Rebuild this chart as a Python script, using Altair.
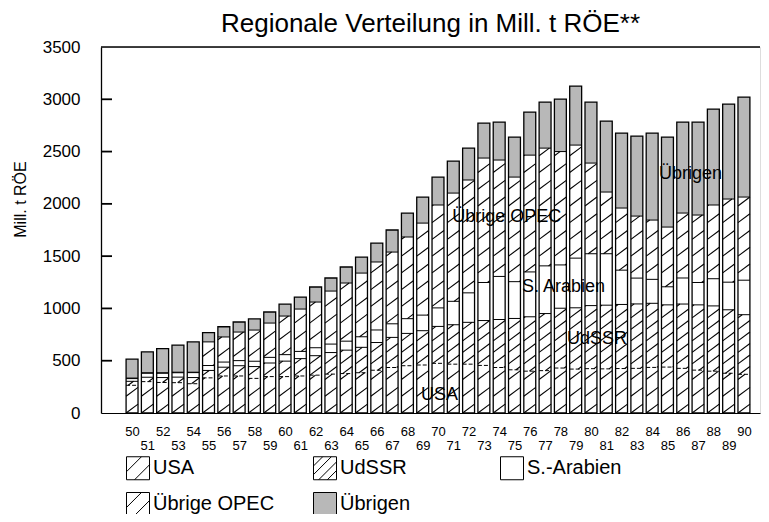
import altair as alt
import pandas as pd

# ---- data (Mill. t RÖE) ----
years = list(range(50, 91))
usa = [265, 300, 292, 290, 280, 336, 354, 354, 331, 348, 348, 354, 362, 372, 377, 385, 409, 435, 452, 459,
       475, 467, 467, 455, 435, 413, 400, 405, 430, 420, 424, 422, 425, 427, 436, 439, 427, 410, 400, 380, 370]
udssr = [38, 42, 47, 53, 59, 71, 84, 98, 113, 130, 148, 166, 186, 206, 224, 243, 265, 288, 309, 328,
         353, 377, 400, 429, 459, 491, 520, 546, 572, 586, 603, 609, 613, 616, 613, 595, 615, 624, 624, 607, 570]
sarabien = [26, 38, 41, 42, 47, 47, 49, 49, 51, 54, 62, 69, 76, 81, 86, 101, 120, 130, 141, 149,
            177, 224, 282, 364, 412, 352, 429, 456, 414, 475, 496, 492, 328, 247, 229, 173, 249, 214, 260, 264, 330]
opec = [5, 5, 5, 5, 4, 226, 240, 273, 298, 328, 369, 405, 437, 507, 556, 609, 650, 686, 781, 880,
        984, 1035, 1079, 1190, 1113, 1000, 1117, 1126, 1084, 1081, 867, 590, 594, 593, 567, 571, 621, 645, 705, 795, 795]
uebrigen = [181, 200, 230, 260, 290, 88, 98, 96, 107, 106, 115, 115, 144, 125, 153, 153, 181, 211, 229, 249,
            267, 306, 305, 334, 363, 383, 412, 440, 502, 564, 583, 679, 717, 765, 832, 861, 870, 889, 917, 908, 956]

series = ["USA", "UdSSR", "S.-Arabien", "Übrige OPEC", "Übrigen"]
y_ticks = [0, 500, 1000, 1500, 2000, 2500, 3000, 3500]

# in-plot labels (text, year position, value position)
ann_text = ["USA", "UdSSR", "S. Arabien", "Übrige OPEC", "Übrigen"]
ann_year = [70.1, 80.4, 78.2, 74.5, 86.5]
ann_val = [172, 707, 1205, 1874, 2285]

# ---- tables built from the arrays ----
rows = []
for i, yr in enumerate(years):
    base = 0
    for s, v in zip(series, [usa, udssr, sarabien, opec, uebrigen]):
        rows.append(dict(year=yr, series=s, lo=base, hi=base + v[i]))
        base += v[i]
seg = pd.DataFrame(rows)
tot = seg.groupby("year", as_index=False)["hi"].max().rename(columns={"hi": "total"})
ann = pd.DataFrame(dict(label=ann_text, year=ann_year, val=ann_val))
top = pd.DataFrame(dict(v=[y_ticks[-1]]))

X_DOMAIN = [47.97, 91.05]
TICK_LEN = 0.72  # length of the inward axis ticks, in x-scale units
ticks_df = pd.DataFrame(dict(v=y_ticks[1:-1], ta=X_DOMAIN[0], tb=X_DOMAIN[0] + TICK_LEN))

HALF = 0.39
RISE = 85
hatch_spec = {"USA": (160, 0), "UdSSR": (110, 30), "Übrige OPEC": (160, 60)}
hl = []
for r in seg.itertuples():
    if r.series not in hatch_spec:
        continue
    S, ph = hatch_spec[r.series]
    k0 = int((r.lo - RISE - ph) // S)
    k1 = int((r.hi - ph) // S) + 1
    for k in range(k0, k1 + 1):
        y0 = ph + k * S
        ts = max(0.0, (r.lo - y0) / RISE)
        te = min(1.0, (r.hi - y0) / RISE)
        if te - ts > 0.05:
            hl.append(dict(xa=r.year - HALF + 2 * HALF * ts, xb=r.year - HALF + 2 * HALF * te,
                           ya=y0 + RISE * ts, yb=y0 + RISE * te))
hatch = pd.DataFrame(hl)

FONT = "Liberation Sans, Arial, sans-serif"

xs = alt.Scale(domain=X_DOMAIN, nice=False, zero=False)
ys = alt.Scale(domain=[0, 3500], nice=False)

x_axis = alt.Axis(values=years, grid=False, ticks=False, domainColor="black", domainWidth=1.2,
                  labelFont=FONT, labelFontSize=13, labelColor="black", labelFlush=False,
                  labelOverlap=False, labelBound=False,
                  labelPadding={"condition": {"test": "datum.value % 2 == 1", "value": 26}, "value": 12},
                  title="")
y_axis = alt.Axis(values=y_ticks, format="d", grid=False, orient="left",
                  ticks=False, domainColor="black", domainWidth=1.3,
                  labelFont=FONT, labelFontSize=17, labelColor="black", labelPadding=21,
                  title="Mill. t RÖE", titleFont=FONT, titleFontSize=16, titleFontWeight="normal",
                  titleColor="black", titlePadding=14, titleY=152)


def X(field):
    return alt.X(field, scale=xs, axis=x_axis)


def Y(field):
    return alt.Y(field, scale=ys, axis=y_axis)


calc = dict(x0=f"datum.year - {HALF}", x1=f"datum.year + {HALF}")

stipple = alt.Chart(seg).transform_filter("datum.series == 'Übrigen'").transform_calculate(**calc).mark_rect(
    fill="#b8b8b8").encode(x=X("x0:Q"), x2="x1:Q", y=Y("lo:Q"), y2="hi:Q")

hatch_layer = alt.Chart(hatch).mark_rule(color="black", strokeWidth=1.1).encode(
    x=X("xa:Q"), x2="xb:Q", y=Y("ya:Q"), y2="yb:Q")

bound_usa = alt.Chart(seg).transform_filter("datum.series == 'USA'").transform_calculate(**calc).mark_rule(
    color="black", strokeWidth=1, strokeDash=[4, 2]).encode(x=X("x0:Q"), x2="x1:Q", y=Y("hi:Q"))

bound_other = alt.Chart(seg).transform_filter(
    "datum.series == 'UdSSR' || datum.series == 'S.-Arabien' || datum.series == 'Übrige OPEC'").transform_calculate(
    **calc).mark_rule(color="black", strokeWidth=1).encode(x=X("x0:Q"), x2="x1:Q", y=Y("hi:Q"))

outline = alt.Chart(tot).transform_calculate(**calc).mark_rect(
    fillOpacity=0, stroke="black", strokeWidth=1.3).encode(
    x=X("x0:Q"), x2="x1:Q", y=Y("total:Q"), y2=alt.datum(0))

labels = alt.Chart(ann).mark_text(font=FONT, fontSize=18, color="black").encode(
    x=X("year:Q"), y=Y("val:Q"), text="label:N")

# top frame line and inward axis ticks
top_line = alt.Chart(top).mark_rule(color="black", strokeWidth=1.3).encode(y=Y("v:Q"))
inward_ticks = alt.Chart(ticks_df).mark_rule(color="black", strokeWidth=1.8).encode(
    x=X("ta:Q"), x2="tb:Q", y=Y("v:Q"), y2="v:Q")

paths = [
    "M-1,-1H1V1H-1Z M-1,0.3L0.3,-1 M-0.3,1L1,-0.3",
    "M-1,-1H1V1H-1Z M-1,-0.2L-0.2,-1 M-1,0.55L0.55,-1 M-0.55,1L1,-0.55 M0.2,1L1,0.2",
    "M-1,-1H1V1H-1Z",
    "M-1,-1H1V1H-1Z M-1,0.3L0.3,-1 M-0.3,1L1,-0.3",
    "M-1,-1H1V1H-1Z",
]
fills = ["white", "white", "white", "white", "#b8b8b8"]
strokes = ["black"] * 5
leg = alt.Legend(orient="none", legendX=25, legendY=409, columns=3, direction="horizontal",
                 gridAlign="all", columnPadding=36, rowPadding=8, symbolSize=529, symbolStrokeWidth=1,
                 symbolOpacity=1, labelFont=FONT, labelFontSize=20, labelColor="black", labelOffset=3,
                 labelLimit=400, title=None)
legend_layer = alt.Chart(seg).transform_filter("datum.year < 0").mark_point(
    filled=True, strokeWidth=1, size=529).encode(
    x=X("year:Q"), y=Y("lo:Q"),
    fill=alt.Fill("series:N", scale=alt.Scale(domain=series, range=fills), legend=leg),
    stroke=alt.Stroke("series:N", scale=alt.Scale(domain=series, range=strokes), legend=leg),
    shape=alt.Shape("series:N", scale=alt.Scale(domain=series, range=paths), legend=leg))

chart = alt.layer(stipple, hatch_layer, bound_usa, bound_other, outline, labels, top_line, inward_ticks,
                  legend_layer).properties(
    width=659, height=366,
    padding={"left": 93, "top": 39, "right": 1, "bottom": 101},
    autosize="none",
    title=alt.TitleParams("Regionale Verteilung in Mill. t RÖE**", font=FONT, fontSize=26,
                          fontWeight="normal", color="black", offset=1, anchor="middle"),
).configure_view(stroke="transparent").configure(background="white")

chart.save("out.html", embed_options={"renderer": "svg", "actions": False})
